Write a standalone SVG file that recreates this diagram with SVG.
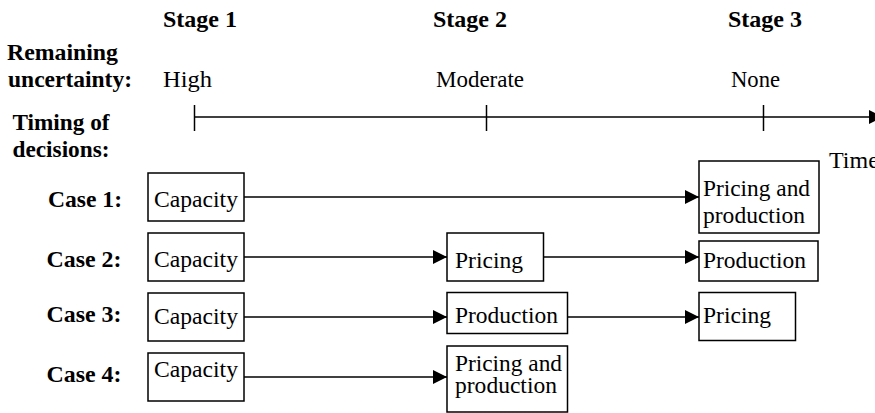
<svg xmlns="http://www.w3.org/2000/svg" width="875" height="413" viewBox="0 0 875 413" font-family="'Liberation Serif', Tinos, 'Times New Roman', Times, 'DejaVu Serif', serif">
<style>
text{font-family:'Liberation Serif',Tinos,'Times New Roman',Times,'DejaVu Serif',serif;font-size:24px;fill:#000}
.b{font-weight:bold}
.box{fill:#fff;stroke:#000;stroke-width:1.5}
.ln{stroke:#000;stroke-width:1.5;fill:none}
</style>
<defs>
<marker id="ah" markerWidth="14" markerHeight="14" refX="14" refY="7" orient="auto" markerUnits="userSpaceOnUse">
<path d="M0,0 L14,7 L0,14 Z" fill="#000"/>
</marker>
</defs>
<rect width="875" height="413" fill="#fff"/>
<g id="headers">
<text class="b" x="163" y="27" textLength="74" lengthAdjust="spacingAndGlyphs">Stage 1</text>
<text class="b" x="433" y="27" textLength="74" lengthAdjust="spacingAndGlyphs">Stage 2</text>
<text class="b" x="728" y="27" textLength="74" lengthAdjust="spacingAndGlyphs">Stage 3</text>
<text class="b" x="7" y="60" textLength="111" lengthAdjust="spacingAndGlyphs">Remaining</text>
<text class="b" x="8" y="87" textLength="124" lengthAdjust="spacingAndGlyphs">uncertainty:</text>
<text x="163" y="87" textLength="49" lengthAdjust="spacingAndGlyphs">High</text>
<text x="436" y="87" textLength="88" lengthAdjust="spacingAndGlyphs">Moderate</text>
<text x="731" y="87" textLength="49" lengthAdjust="spacingAndGlyphs">None</text>
<text class="b" x="12.5" y="130" textLength="97" lengthAdjust="spacingAndGlyphs">Timing of</text>
<text class="b" x="12.5" y="157" textLength="97" lengthAdjust="spacingAndGlyphs">decisions:</text>
<text x="829" y="168">Time</text>
</g>
<g id="timeline">
<line class="ln" x1="194.5" y1="117" x2="870" y2="117"/>
<path d="M869,110 L883,117 L869,124 Z" fill="#000"/>
<line class="ln" x1="194.5" y1="105" x2="194.5" y2="131"/>
<line class="ln" x1="486.5" y1="105" x2="486.5" y2="131"/>
<line class="ln" x1="763.5" y1="105" x2="763.5" y2="131"/>
</g>
<g id="case-labels">
<text class="b" x="48" y="207" textLength="74" lengthAdjust="spacingAndGlyphs">Case 1:</text>
<text class="b" x="46.5" y="267" textLength="75" lengthAdjust="spacingAndGlyphs">Case 2:</text>
<text class="b" x="46.5" y="322" textLength="75" lengthAdjust="spacingAndGlyphs">Case 3:</text>
<text class="b" x="46.5" y="382" textLength="75" lengthAdjust="spacingAndGlyphs">Case 4:</text>
</g>
<g id="connectors">
<line class="ln" x1="244" y1="197" x2="699" y2="197" marker-end="url(#ah)"/>
<line class="ln" x1="244" y1="257" x2="447" y2="257" marker-end="url(#ah)"/>
<line class="ln" x1="544" y1="257" x2="699" y2="257" marker-end="url(#ah)"/>
<line class="ln" x1="244" y1="317" x2="447" y2="317" marker-end="url(#ah)"/>
<line class="ln" x1="568" y1="317" x2="699" y2="317" marker-end="url(#ah)"/>
<line class="ln" x1="244" y1="377" x2="447" y2="377" marker-end="url(#ah)"/>
</g>
<g id="c1-capacity"><rect class="box" x="148" y="173" width="96" height="48"/><text x="154" y="207" textLength="84" lengthAdjust="spacingAndGlyphs">Capacity</text></g>
<g id="c2-capacity"><rect class="box" x="148" y="233" width="96" height="48"/><text x="154" y="267" textLength="84" lengthAdjust="spacingAndGlyphs">Capacity</text></g>
<g id="c3-capacity"><rect class="box" x="148" y="293" width="96" height="48"/><text x="154" y="324" textLength="84" lengthAdjust="spacingAndGlyphs">Capacity</text></g>
<g id="c4-capacity"><rect class="box" x="148" y="353" width="96" height="48"/><text x="154" y="377" textLength="84" lengthAdjust="spacingAndGlyphs">Capacity</text></g>
<g id="c2-pricing"><rect class="box" x="447" y="233" width="96.5" height="48"/><text x="455" y="268" textLength="68" lengthAdjust="spacingAndGlyphs">Pricing</text></g>
<g id="c3-production"><rect class="box" x="447" y="292.5" width="120.5" height="41"/><text x="455" y="322.5" textLength="103" lengthAdjust="spacingAndGlyphs">Production</text></g>
<g id="c4-pricing-production"><rect class="box" x="447" y="346" width="120.5" height="66"/><text x="455" y="371" textLength="107" lengthAdjust="spacingAndGlyphs">Pricing and</text><text x="455" y="393" textLength="102" lengthAdjust="spacingAndGlyphs">production</text></g>
<g id="c1-pricing-production"><rect class="box" x="699" y="161" width="120" height="72"/><text x="703" y="196" textLength="107" lengthAdjust="spacingAndGlyphs">Pricing and</text><text x="703" y="223" textLength="102" lengthAdjust="spacingAndGlyphs">production</text></g>
<g id="c2-production"><rect class="box" x="699" y="241" width="119" height="40"/><text x="703" y="268" textLength="103" lengthAdjust="spacingAndGlyphs">Production</text></g>
<g id="c3-pricing"><rect class="box" x="699" y="292.5" width="96.5" height="48"/><text x="703" y="322.5" textLength="68" lengthAdjust="spacingAndGlyphs">Pricing</text></g>
</svg>
